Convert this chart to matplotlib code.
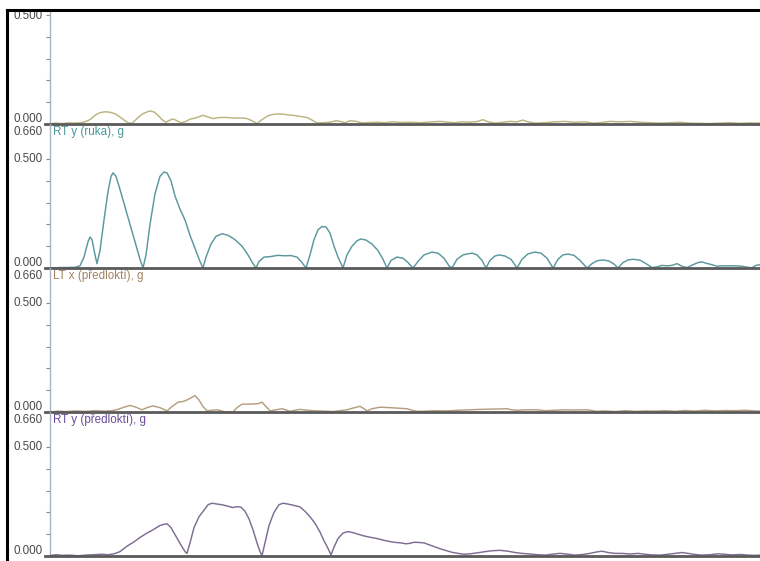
import matplotlib
matplotlib.use("Agg")
import matplotlib.pyplot as plt
from matplotlib.lines import Line2D
from matplotlib.patches import Rectangle
import matplotlib.transforms as mtransforms

plt.rcParams['font.family'] = ['Liberation Sans', 'DejaVu Sans']

# ---------------- data (sample index, acceleration in g) ----------------
t_top = [50, 55, 62, 68, 75, 82, 86, 90, 95, 100, 105, 110, 116, 122, 128, 132, 137, 142, 147, 150,
         154, 158, 162, 166, 170, 173, 177, 181, 186, 190, 196, 203, 208, 213, 220, 227, 234, 241, 247,
         252, 257, 262, 268, 273, 277, 283, 288, 293, 300, 307, 312, 317, 323, 330, 336, 340, 345, 350,
         356, 362, 370, 378, 385, 393, 400, 410, 420, 430, 440, 448, 455, 462, 470, 478, 483, 488, 495,
         503, 510, 517, 523, 528, 535, 545, 555, 565, 575, 585, 593, 600, 610, 620, 630, 640, 650, 660,
         670, 680, 690, 700, 710, 720, 730, 740, 750, 760]
v_top = [0.0, 0.004, 0.002, 0.005, 0.004, 0.006, 0.012, 0.02, 0.04, 0.052, 0.056, 0.054, 0.045, 0.025,
         0.005, 0.003, 0.025, 0.045, 0.055, 0.06, 0.055, 0.04, 0.02, 0.008, 0.018, 0.023, 0.015, 0.005,
         0.012, 0.022, 0.028, 0.04, 0.032, 0.025, 0.03, 0.03, 0.027, 0.028, 0.025, 0.015, 0.002, 0.02,
         0.038, 0.044, 0.046, 0.045, 0.042, 0.04, 0.035, 0.03, 0.018, 0.005, 0.006, 0.008, 0.015, 0.012,
         0.006, 0.015, 0.012, 0.005, 0.007, 0.008, 0.006, 0.01, 0.007, 0.008, 0.006, 0.009, 0.012, 0.008,
         0.006, 0.01, 0.008, 0.012, 0.02, 0.01, 0.004, 0.008, 0.012, 0.01, 0.018, 0.01, 0.004, 0.006,
         0.01, 0.012, 0.008, 0.01, 0.004, 0.006, 0.012, 0.01, 0.012, 0.008, 0.006, 0.004, 0.006, 0.008,
         0.004, 0.003, 0.002, 0.004, 0.006, 0.003, 0.005, 0.004]

t_ruka = [50, 60, 75, 80, 84, 88, 90, 92, 95, 97, 100, 104, 108, 111, 113, 116, 120, 125, 130, 135,
          140, 143, 146, 150, 155, 160, 164, 167, 171, 175, 180, 185, 190, 195, 200, 203, 206, 211, 216,
          222, 228, 235, 242, 248, 253, 256, 259, 264, 270, 278, 285, 291, 297, 302, 306, 310, 314, 318,
          322, 326, 330, 334, 338, 343, 347, 352, 357, 361, 366, 372, 378, 383, 387, 391, 397, 403, 408,
          413, 418, 424, 432, 438, 444, 449, 452, 457, 463, 468, 472, 477, 482, 486, 490, 495, 499, 505,
          511, 517, 522, 528, 535, 541, 547, 553, 558, 563, 568, 574, 580, 587, 592, 597, 603, 609, 614,
          618, 623, 628, 633, 640, 646, 652, 657, 662, 667, 672, 677, 682, 687, 693, 698, 702, 706, 712,
          717, 722, 728, 735, 742, 748, 752, 756, 760]
v_ruka = [0.0, 0.002, 0.003, 0.01, 0.05, 0.12, 0.142, 0.13, 0.06, 0.02, 0.08, 0.22, 0.35, 0.42, 0.436,
          0.42, 0.36, 0.28, 0.2, 0.12, 0.04, 0.0, 0.06, 0.2, 0.34, 0.42, 0.44, 0.436, 0.40, 0.33, 0.27,
          0.22, 0.15, 0.09, 0.03, 0.0, 0.05, 0.11, 0.145, 0.157, 0.15, 0.13, 0.1, 0.06, 0.02, 0.0, 0.03,
          0.05, 0.052, 0.058, 0.056, 0.057, 0.05, 0.025, 0.0, 0.06, 0.13, 0.175, 0.19, 0.188, 0.16, 0.1,
          0.05, 0.0, 0.06, 0.1, 0.125, 0.133, 0.128, 0.11, 0.08, 0.04, 0.0, 0.035, 0.05, 0.045, 0.025,
          0.0, 0.03, 0.06, 0.073, 0.068, 0.045, 0.01, 0.0, 0.04, 0.06, 0.065, 0.068, 0.06, 0.035, 0.0,
          0.035, 0.055, 0.06, 0.055, 0.04, 0.0, 0.04, 0.065, 0.073, 0.068, 0.045, 0.0, 0.04, 0.06, 0.064,
          0.058, 0.035, 0.0, 0.02, 0.033, 0.037, 0.032, 0.018, 0.0, 0.025, 0.037, 0.04, 0.036, 0.02,
          0.002, 0.005, 0.012, 0.01, 0.012, 0.02, 0.008, 0.002, 0.015, 0.025, 0.028, 0.022, 0.015, 0.008,
          0.01, 0.01, 0.01, 0.008, 0.003, 0.001, 0.012, 0.015]

t_lt = [50, 58, 66, 75, 85, 95, 105, 112, 118, 124, 130, 136, 142, 147, 153, 160, 167, 172, 178, 183,
        187, 191, 195, 199, 203, 207, 212, 217, 221, 225, 230, 233, 237, 242, 250, 258, 262, 266, 270,
        276, 282, 287, 290, 295, 300, 307, 317, 325, 333, 340, 347, 353, 360, 364, 367, 372, 380, 390,
        400, 407, 412, 417, 425, 435, 447, 458, 470, 480, 490, 500, 507, 512, 517, 525, 537, 545, 555,
        565, 575, 587, 597, 605, 615, 625, 635, 645, 655, 665, 675, 685, 695, 705, 715, 725, 735, 745,
        752, 760]
v_lt = [0.0, 0.004, 0.002, 0.005, 0.003, 0.006, 0.004, 0.006, 0.012, 0.022, 0.03, 0.022, 0.01, 0.02,
        0.028, 0.02, 0.005, 0.025, 0.045, 0.048, 0.055, 0.065, 0.075, 0.055, 0.025, 0.005, 0.008, 0.01,
        0.006, 0.0, 0.002, 0.0, 0.02, 0.036, 0.036, 0.038, 0.045, 0.025, 0.005, 0.01, 0.015, 0.008,
        0.003, 0.008, 0.012, 0.008, 0.005, 0.004, 0.002, 0.006, 0.01, 0.018, 0.026, 0.015, 0.005, 0.015,
        0.022, 0.02, 0.017, 0.015, 0.008, 0.003, 0.004, 0.006, 0.005, 0.008, 0.01, 0.012, 0.013, 0.014,
        0.015, 0.01, 0.008, 0.01, 0.01, 0.006, 0.008, 0.01, 0.009, 0.01, 0.003, 0.005, 0.002, 0.006,
        0.003, 0.005, 0.004, 0.006, 0.003, 0.007, 0.004, 0.008, 0.005, 0.007, 0.006, 0.008, 0.006, 0.004]

t_rt = [50, 56, 62, 70, 78, 86, 94, 102, 108, 114, 120, 127, 134, 140, 147, 153, 160, 164, 167, 171,
        176, 181, 185, 187, 190, 194, 199, 204, 208, 212, 217, 222, 228, 233, 237, 241, 245, 249, 253,
        257, 260, 262, 265, 269, 274, 279, 283, 288, 294, 300, 305, 310, 315, 320, 324, 328, 331, 334,
        338, 343, 348, 353, 358, 364, 370, 377, 384, 390, 396, 401, 406, 410, 414, 419, 424, 430, 436,
        441, 446, 452, 458, 464, 470, 478, 485, 492, 500, 508, 515, 522, 530, 538, 545, 552, 560, 568,
        575, 583, 590, 596, 602, 608, 615, 622, 630, 638, 645, 652, 660, 668, 675, 682, 688, 695, 702,
        710, 718, 725, 732, 740, 748, 755, 760]
v_rt = [0.002, 0.006, 0.003, 0.004, 0.001, 0.004, 0.006, 0.008, 0.006, 0.01, 0.02, 0.045, 0.065, 0.085,
        0.105, 0.12, 0.14, 0.145, 0.148, 0.13, 0.09, 0.05, 0.02, 0.012, 0.06, 0.13, 0.18, 0.21, 0.235,
        0.242, 0.238, 0.235, 0.228, 0.222, 0.226, 0.224, 0.205, 0.17, 0.12, 0.06, 0.02, 0.002, 0.06,
        0.14, 0.2, 0.235, 0.242, 0.238, 0.232, 0.225, 0.205, 0.18, 0.15, 0.11, 0.07, 0.035, 0.005, 0.04,
        0.08, 0.105, 0.112, 0.107, 0.1, 0.092, 0.086, 0.08, 0.072, 0.066, 0.062, 0.06, 0.056, 0.058,
        0.063, 0.062, 0.06, 0.05, 0.04, 0.032, 0.025, 0.017, 0.012, 0.008, 0.01, 0.015, 0.02, 0.024,
        0.026, 0.022, 0.016, 0.012, 0.009, 0.006, 0.004, 0.008, 0.012, 0.008, 0.004, 0.007, 0.012,
        0.018, 0.022, 0.016, 0.012, 0.012, 0.009, 0.012, 0.008, 0.005, 0.004, 0.008, 0.012, 0.016,
        0.012, 0.007, 0.004, 0.006, 0.01, 0.008, 0.005, 0.007, 0.004, 0.003, 0.004]

panel_titles = ["", "RT y (ruka), g", "LT x (předloktí), g", "RT y (předloktí), g"]
top_labels = ["", "0.660", "0.660", "0.660"]
mid_label = "0.500"
zero_label = "0.000"
y_max = [0.523, 0.66, 0.66, 0.66]
series_t = [t_top, t_ruka, t_lt, t_rt]
series_v = [v_top, v_ruka, v_lt, v_rt]

line_colors = ["#bab47e", "#5a989d", "#b59e80", "#7e6d93"]
title_colors = ["#bab47e", "#4a9898", "#a08262", "#6a4c9c"]
num_color = "#4a4a4a"

# ---------------- layout ----------------
W, H = 760, 561
fig = plt.figure(figsize=(W / 100, H / 100), dpi=100)
fig.patch.set_facecolor("white")

x_left = 50
bounds = [(10, 124), (124, 268), (268, 412), (412, 556)]
fs = 8.4

for i, (top, bot) in enumerate(bounds):
    ax = fig.add_axes([x_left / W, 1 - bot / H, (W - x_left) / W, (bot - top) / H])
    ax.set_xlim(50, 760)
    ax.set_ylim(0, y_max[i])
    ax.set_facecolor("none")
    for s in ["top", "right", "bottom"]:
        ax.spines[s].set_visible(False)
    ax.spines["left"].set_color("#a9b3bd")
    ax.spines["left"].set_linewidth(1.0)
    ax.set_xticks([])
    ax.set_yticks([0.1, 0.2, 0.3, 0.4, 0.5])
    ax.set_yticklabels([])
    ax.tick_params(axis="y", length=3, width=0.8, color="#8a8a8a")

    ax.plot(series_t[i], series_v[i], color=line_colors[i], lw=1.05, zorder=3)
    # baseline (zero line)
    ax.plot([45, 760], [0, 0], color="#5a5a5a", lw=2.0, clip_on=False, zorder=4)

    ytr = ax.get_yaxis_transform()
    xoff = -7 / (W - x_left)
    # 0.500 label
    tr = mtransforms.offset_copy(ytr, fig=fig, x=0, y=-3.5, units="dots")
    ax.text(xoff, 0.5, mid_label, transform=tr, ha="right", va="baseline",
            fontsize=fs, color=num_color, clip_on=False)
    # 0.000 label
    tr0 = mtransforms.offset_copy(ytr, fig=fig, x=0, y=2.5, units="dots")
    ax.text(xoff, 0.0, zero_label, transform=tr0, ha="right", va="baseline",
            fontsize=fs, color=num_color)
    if top_labels[i]:
        trt = mtransforms.offset_copy(ax.transAxes, fig=fig, x=0, y=-11, units="dots")
        ax.text(xoff, 1.0, top_labels[i], transform=trt, ha="right", va="baseline",
                fontsize=fs, color=num_color)
        ax.text(3 / (W - x_left), 1.0, panel_titles[i], transform=trt, ha="left",
                va="baseline", fontsize=fs, color=title_colors[i])

# white mask above the frame + black frame lines
fig.add_artist(Rectangle((0, 1 - 10.5 / H), 1, 10.5 / H, transform=fig.transFigure,
                         facecolor="white", edgecolor="none", zorder=10))
fig.add_artist(Rectangle((0, 0), 6 / W, 1, transform=fig.transFigure,
                         facecolor="white", edgecolor="none", zorder=10))
fig.add_artist(Line2D([7 / W, 7 / W], [0, 1 - 10 / H], transform=fig.transFigure,
                      color="black", lw=2.2, zorder=11))
fig.add_artist(Line2D([7 / W, 1], [1 - 10 / H, 1 - 10 / H], transform=fig.transFigure,
                      color="black", lw=2.2, zorder=11))

fig.savefig("out.png", dpi=100, facecolor="white")
